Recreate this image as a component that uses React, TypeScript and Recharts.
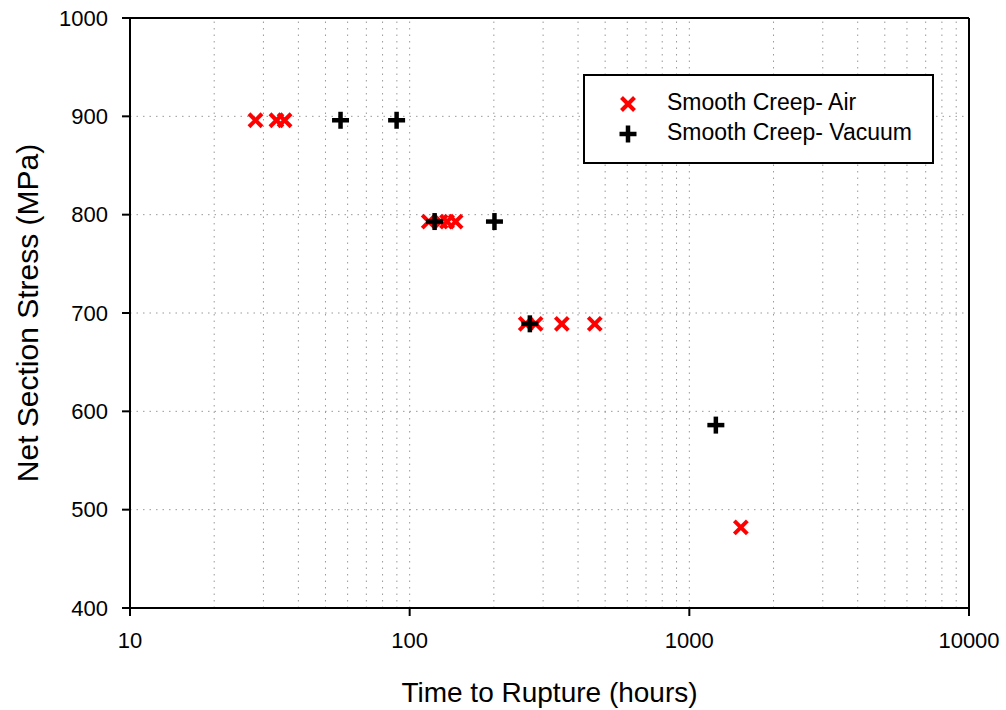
import { ScatterChart, Scatter, XAxis, YAxis, ReferenceLine, Legend } from "recharts"

const airTime = [28.1, 33.4, 35.7, 117, 129, 136, 146, 260, 282, 350, 459, 1528]
const airStress = [896, 896, 896, 793, 793, 793, 793, 689, 689, 689, 689, 482]
const vacTime = [56.6, 89.8, 122.8, 201, 269, 1244]
const vacStress = [896, 896, 793, 793, 689, 586]

const xTicks = [10, 100, 1000, 10000]
const yTicks = [400, 500, 600, 700, 800, 900, 1000]
const xGrid = [20, 30, 40, 50, 60, 70, 80, 90, 100, 200, 300, 400, 500, 600, 700, 800, 900, 1000, 2000, 3000, 4000, 5000, 6000, 7000, 8000, 9000]
const yGrid = [500, 600, 700, 800, 900]

const airData = airTime.map((t, i) => ({ time: t, stress: airStress[i] }))
const vacData = vacTime.map((t, i) => ({ time: t, stress: vacStress[i] }))

const font = "'Liberation Sans', Arial, sans-serif"

const Cross = (props: any) => {
  const { cx, cy } = props
  const s = 6.5
  return (
    <g stroke="#ff0000" strokeWidth={4}>
      <line x1={cx - s} y1={cy - s} x2={cx + s} y2={cy + s} />
      <line x1={cx - s} y1={cy + s} x2={cx + s} y2={cy - s} />
    </g>
  )
}

const Plus = (props: any) => {
  const { cx, cy } = props
  const s = 8.5
  return (
    <g stroke="#000" strokeWidth={4.5}>
      <line x1={cx - s} y1={cy} x2={cx + s} y2={cy} />
      <line x1={cx} y1={cy - s} x2={cx} y2={cy + s} />
    </g>
  )
}

const LegendBox = () => (
  <div
    style={{
      width: 347,
      height: 86,
      border: "2px solid #000",
      background: "#fff",
      fontFamily: font,
      fontSize: 23,
      position: "relative",
    }}
  >
    <svg width={30} height={70} style={{ position: "absolute", left: 28, top: 10 }}>
      <Cross cx={15} cy={18} />
      <Plus cx={15} cy={48} />
    </svg>
    <div style={{ position: "absolute", left: 82, top: 13 }}>Smooth Creep- Air</div>
    <div style={{ position: "absolute", left: 82, top: 43 }}>Smooth Creep- Vacuum</div>
  </div>
)

export default function App() {
  return (
    <div style={{ position: "absolute", left: 0, top: 0 }}>
      <ScatterChart width={1006} height={710} margin={{ top: 18, right: 37, bottom: 0, left: 0 }}>
        {xGrid.map((v) => (
          <ReferenceLine key={"x" + v} x={v} stroke="#999" strokeDasharray="1.5 5" />
        ))}
        {yGrid.map((v) => (
          <ReferenceLine key={"y" + v} y={v} stroke="#999" strokeDasharray="1.5 5" />
        ))}
        <ReferenceLine y={1000} stroke="#000" strokeWidth={2} />
        <ReferenceLine x={10000} stroke="#000" strokeWidth={2} />
        <XAxis
          type="number"
          dataKey="time"
          scale="log"
          domain={[10, 10000]}
          ticks={xTicks}
          allowDataOverflow
          height={102}
          stroke="#000"
          strokeWidth={2}
          tickSize={8}
          tickMargin={16}
          tick={{ fill: "#000", fontSize: 22, fontFamily: font }}
          label={{ value: "Time to Rupture (hours)", position: "insideBottom", offset: 8, fill: "#000", fontSize: 28, fontFamily: font }}
        />
        <YAxis
          type="number"
          dataKey="stress"
          domain={[400, 1000]}
          ticks={yTicks}
          allowDataOverflow
          width={130}
          stroke="#000"
          strokeWidth={2}
          tickSize={8}
          tickMargin={14}
          tick={{ fill: "#000", fontSize: 22, fontFamily: font }}
          label={{ value: "Net Section Stress (MPa)", angle: -90, position: "insideLeft", offset: 27, style: { textAnchor: "middle" }, fill: "#000", fontSize: 30, fontFamily: font }}
        />
        <Legend
          layout="horizontal"
          verticalAlign="middle"
          align="center"
          content={() => <LegendBox />}
          wrapperStyle={{ left: 583, top: 74, width: 351 }}
        />
        <Scatter name="Smooth Creep- Air" data={airData} shape={Cross} isAnimationActive={false} />
        <Scatter name="Smooth Creep- Vacuum" data={vacData} shape={Plus} isAnimationActive={false} />
      </ScatterChart>
    </div>
  )
}
